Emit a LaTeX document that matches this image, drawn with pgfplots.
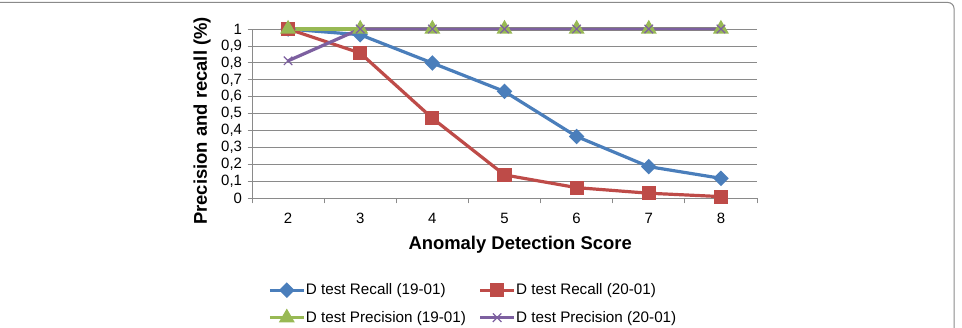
\documentclass[border=0pt]{standalone}
\usepackage{pgfplots}
\pgfplotsset{compat=1.18}
\usepackage{fontspec}
\setmainfont{Liberation Sans}
\definecolor{cblue}{HTML}{4A7EBB}
\definecolor{cred}{HTML}{BE4B48}
\definecolor{cgreen}{HTML}{98B954}
\definecolor{cpurple}{HTML}{7D60A0}
\definecolor{cgrid}{HTML}{8A8A8A}
\begin{document}
\begin{tikzpicture}
\useasboundingbox (0bp,0bp) rectangle (962bp,328bp);
\draw[cgrid, line width=1bp, rounded corners=6bp] (0bp,325.5bp) -- (954bp,325.5bp) -- (954bp,0bp);
\begin{axis}[
  at={(252bp,129.7bp)}, anchor=south west,
  scale only axis, width=505bp, height=169.3bp,
  xmin=1.5, xmax=8.5, ymin=0, ymax=1,
  axis x line=bottom, axis y line=left,
  axis line style={cgrid, line width=0.8bp, -},
  xtick={2,3,4,5,6,7,8},
  minor xtick={1.5,2.5,3.5,4.5,5.5,6.5,7.5,8.5},
  ytick={0,0.1,0.2,0.3,0.4,0.5,0.6,0.7,0.8,0.9,1},
  every major x tick/.append style={draw=none},
  every minor x tick/.append style={draw=cgrid, line width=0.8bp},
  ytick style={draw=cgrid, line width=0.8bp},
  tick align=outside,
  major tick length=4.5bp, minor tick length=5bp,
  ymajorgrids, grid style={cgrid, line width=0.8bp},
  /pgf/number format/assume math mode=true,
  /pgf/number format/use comma,
  ticklabel style={font=\fontsize{15}{18}\selectfont},
  xticklabel style={yshift=-7bp},
  yticklabel style={xshift=-2bp},
  xlabel={Anomaly Detection Score},
  ylabel={Precision and recall (\%)},
  xlabel style={font=\fontsize{18.5}{22}\selectfont\bfseries, at={(axis description cs:0.531,-0.305)}, anchor=base},
  ylabel style={font=\fontsize{18.5}{22}\selectfont\bfseries, at={(axis description cs:-0.099,0.457)}, anchor=center},
  legend columns=2,
  legend cell align=left,
  legend image code/.code={\draw[mark repeat=2,mark phase=2] plot coordinates {(0bp,0bp) (17bp,0bp) (34bp,0bp)};},
  legend style={draw=none, fill=none, font=\fontsize{15.3}{18}\selectfont,
    at={(axis description cs:0.0317,-0.624)}, anchor=west,
    inner sep=0pt, row sep=14bp,
    nodes={inner sep=0.5bp},
    /tikz/every even column/.append style={column sep=12bp}},
  clip=false,
]
\addplot[cblue, line width=3.2bp, mark=square*, mark size=3.9bp, mark options={rotate=45, solid}]
  coordinates {(2,1.0) (3,0.966) (4,0.799) (5,0.631) (6,0.365) (7,0.187) (8,0.118)};
\addlegendentry{D test Recall (19-01)}
\addplot[cred, line width=3.2bp, mark=square*, mark size=5.5bp, mark options={solid}]
  coordinates {(2,1.0) (3,0.858) (4,0.473) (5,0.138) (6,0.063) (7,0.030) (8,0.010)};
\addlegendentry{D test Recall (20-01)}
\addplot[cgreen, line width=3.2bp, mark=triangle*, mark size=6bp, mark options={solid}]
  coordinates {(2,1.0) (3,1.0) (4,1.0) (5,1.0) (6,1.0) (7,1.0) (8,1.0)};
\addlegendentry{D test Precision (19-01)}
\addplot[cpurple, line width=3.2bp, mark=x, mark size=6bp, mark options={solid, line width=1.2bp}]
  coordinates {(2,0.812) (3,1.0) (4,1.0) (5,1.0) (6,1.0) (7,1.0) (8,1.0)};
\addlegendentry{D test Precision (20-01)}
\end{axis}
\end{tikzpicture}
\end{document}
